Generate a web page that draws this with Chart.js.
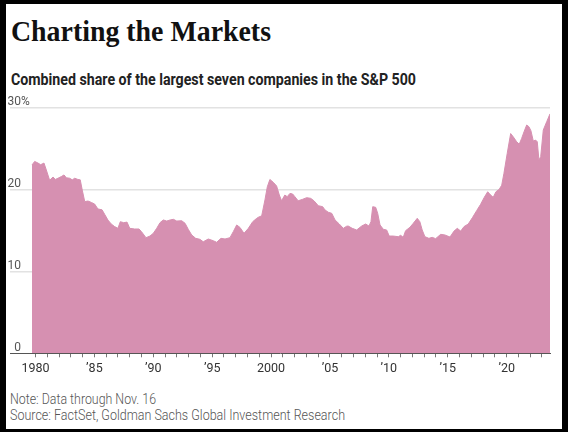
<!DOCTYPE html>
<html>
<head>
<meta charset="utf-8">
<script src="https://cdn.jsdelivr.net/npm/chart.js@4.4.0/dist/chart.umd.min.js"></script>
<style>
  html, body { margin: 0; padding: 0; background: #000; }
  body { width: 568px; height: 432px; position: relative; overflow: hidden; }
  #card { position: absolute; left: 6px; top: 4px; width: 556px; height: 425px; background: #fff; }
  .txt { position: absolute; white-space: nowrap; line-height: 1; transform-origin: 0 0; }
  #title { left: 11px; top: 14px; font: bold 30px "Liberation Serif", serif; color: #111; }
  #sub { left: 11px; top: 70px; font: bold 16px Roboto, sans-serif; color: #222; }
  #note { left: 10px; top: 391px; font: 300 14.5px Roboto, sans-serif; color: #555; }
  #src { left: 10px; top: 407px; font: 300 14.5px Roboto, sans-serif; color: #555; }
  #wrap { position: absolute; left: 0; top: 80px; width: 568px; height: 310px; }
</style>
</head>
<body>
<div id="card"></div>
<div class="txt" id="title">Charting the Markets</div>
<div class="txt" id="sub">Combined share of the largest seven companies in the S&amp;P 500</div>
<div class="txt" id="note">Note: Data through Nov. 16</div>
<div class="txt" id="src">Source: FactSet, Goldman Sachs Global Investment Research</div>
<div id="wrap"><canvas id="chart"></canvas></div>
<script>
// decimal years and share of the top seven
const years = [
  1979.70, 1979.93, 1980.21, 1980.44, 1980.72, 1980.92, 1981.20, 1981.49, 1981.68, 1981.91,
  1982.19, 1982.42, 1982.62, 1982.90, 1983.12, 1983.33, 1983.60, 1983.80, 1983.97, 1984.18,
  1984.46, 1984.74, 1985.02, 1985.30, 1985.65, 1985.87, 1986.15, 1986.43, 1986.72, 1987.00,
  1987.20, 1987.49, 1987.77, 1988.00, 1988.42, 1988.79, 1989.00, 1989.38, 1989.72, 1990.00,
  1990.29, 1990.57, 1990.85, 1991.14, 1991.43, 1991.71, 1991.99, 1992.41, 1992.70, 1992.97,
  1993.26, 1993.60, 1993.96, 1994.24, 1994.67, 1995.09, 1995.38, 1995.75, 1996.09, 1996.51,
  1996.79, 1997.08, 1997.36, 1997.70, 1998.07, 1998.44, 1998.78, 1999.00, 1999.20, 1999.48,
  1999.68, 1999.90, 2000.19, 2000.47, 2000.70, 2000.89, 2001.17, 2001.37, 2001.60, 2001.83,
  2002.02, 2002.30, 2002.68, 2003.02, 2003.36, 2003.64, 2004.01, 2004.38, 2004.58, 2004.86,
  2005.15, 2005.43, 2005.79, 2006.13, 2006.42, 2006.55, 2006.89, 2007.27, 2007.69, 2008.03,
  2008.31, 2008.48, 2008.63, 2008.88, 2009.05, 2009.25, 2009.53, 2009.81, 2010.03, 2010.37,
  2010.80, 2011.00, 2011.22, 2011.42, 2011.79, 2012.07, 2012.41, 2012.63, 2012.83, 2013.06,
  2013.40, 2013.68, 2013.97, 2014.40, 2014.76, 2015.19, 2015.53, 2015.81, 2016.10, 2016.38,
  2016.74, 2017.11, 2017.45, 2017.79, 2018.10, 2018.39, 2018.64, 2018.86, 2019.09, 2019.37,
  2019.58, 2019.77, 2020.05, 2020.34, 2020.56, 2020.85, 2021.07, 2021.27, 2021.47, 2021.70,
  2021.89, 2022.06, 2022.26, 2022.46, 2022.60, 2022.74, 2022.89, 2023.11, 2023.40, 2023.68
]
const share = [
  22.96, 23.4, 23.2, 23.0, 23.2, 22.35, 21.1, 21.5, 21.2, 21.35,
  21.55, 21.75, 21.4, 21.35, 21.15, 21.35, 21.2, 21.15, 19.9, 18.5,
  18.57, 18.4, 18.2, 17.6, 17.5, 16.95, 16.25, 15.77, 15.45, 15.24,
  16.05, 15.93, 16.0, 15.24, 15.16, 15.16, 14.83, 14.1, 14.3, 14.63,
  15.24, 15.93, 16.26, 16.13, 16.26, 16.34, 16.13, 16.17, 15.85, 15.12,
  14.43, 14.02, 13.9, 13.6, 13.94, 13.73, 13.54, 14.02, 13.94, 14.1,
  14.83, 15.65, 15.35, 14.63, 15.24, 16.05, 16.46, 16.66, 16.74, 18.7,
  20.3, 21.2, 20.85, 20.4, 19.3, 18.6, 19.3, 19.1, 19.5, 19.43,
  19.1, 18.6, 18.78, 18.98, 18.9, 18.6, 18.0, 17.88, 17.48, 17.2,
  17.07, 16.26, 15.77, 15.24, 15.5, 15.52, 15.24, 15.04, 15.52, 15.77,
  15.52, 16.05, 17.88, 17.8, 17.07, 15.65, 15.12, 15.04, 14.3, 14.3,
  14.22, 14.39, 14.14, 14.95, 15.37, 15.85, 16.46, 16.05, 15.04, 14.22,
  14.02, 14.14, 13.98, 14.51, 14.43, 14.18, 14.9, 15.24, 14.9, 15.45,
  15.77, 16.58, 17.39, 18.17, 19.02, 19.7, 19.3, 19.02, 19.7, 20.0,
  20.5, 21.95, 24.4, 26.8, 26.4, 25.8, 25.5, 26.2, 27.0, 27.84,
  27.63, 27.15, 25.9, 26.0, 25.8, 23.57, 23.98, 27.23, 28.24, 29.2
]
const yTicks = [0, 10, 20, 30]
const tickYears = []
for (let y = 1980; y <= 2023; y++) tickYears.push(y)

function yearLabel(v) {
  if (v % 5 !== 0) return ""
  if (v === 1980 || v === 2000) return String(v)
  return "\u2019" + String(v).slice(2)
}

function fitWidth(id, w) {
  let el = document.getElementById(id)
  let nat = el.getBoundingClientRect().width
  el.style.transform = "scaleX(" + (w / nat) + ")"
}

// y labels sit above the gridlines, right aligned, "%" hanging on the top one
const yLabels = {
  id: "yLabels",
  afterDraw(chart) {
    let c = chart.ctx
    let s = chart.scales.y
    let x = chart.chartArea.left + 11
    c.save()
    c.font = "12px Roboto"
    c.fillStyle = "#555"
    c.textBaseline = "alphabetic"
    yTicks.forEach(v => {
      let py = s.getPixelForValue(v) - 2.5
      c.textAlign = "right"
      c.fillText(String(v), x, py)
      if (v === yTicks[yTicks.length - 1]) {
        c.textAlign = "left"
        c.fillText("%", x, py)
      }
    })
    c.restore()
  }
}

document.fonts.ready.then(() => {
  fitWidth("title", 260)
  fitWidth("sub", 405)
  fitWidth("note", 146)
  fitWidth("src", 335)

  let points = years.map((yr, i) => ({ x: yr, y: share[i] }))

  new Chart(document.getElementById("chart"), {
    type: "line",
    data: {
      datasets: [{
        data: points,
        fill: "origin",
        backgroundColor: "#d690b1",
        borderColor: "#d690b1",
        borderWidth: 1,
        pointRadius: 0,
        tension: 0
      }]
    },
    options: {
      responsive: true,
      maintainAspectRatio: false,
      animation: false,
      layout: { padding: { left: 10, right: 18, top: 27.3, bottom: 9.7 } },
      plugins: { legend: { display: false }, tooltip: { enabled: false } },
      scales: {
        x: {
          type: "linear",
          min: 1977.835,
          max: 2023.68,
          z: 1,
          afterBuildTicks: s => { s.ticks = tickYears.map(v => ({ value: v })) },
          grid: { drawOnChartArea: false, drawTicks: true, tickLength: 4, color: "#777" },
          border: { display: true, color: "#555", width: 1 },
          ticks: {
            autoSkip: false,
            maxRotation: 0,
            padding: 4,
            color: "#333",
            font: { family: "Roboto", size: 12.5 },
            callback: v => yearLabel(v)
          }
        },
        y: {
          min: 0,
          max: 30,
          z: 1,
          afterBuildTicks: s => { s.ticks = yTicks.map(v => ({ value: v })) },
          grid: {
            drawTicks: false,
            lineWidth: 1.5,
            color: ctx => ctx.tick && ctx.tick.value === 0 ? "rgba(0,0,0,0)" : "#e2e2e2"
          },
          border: { display: false },
          ticks: { display: false }
        }
      }
    },
    plugins: [yLabels]
  })
})
</script>
</body>
</html>
